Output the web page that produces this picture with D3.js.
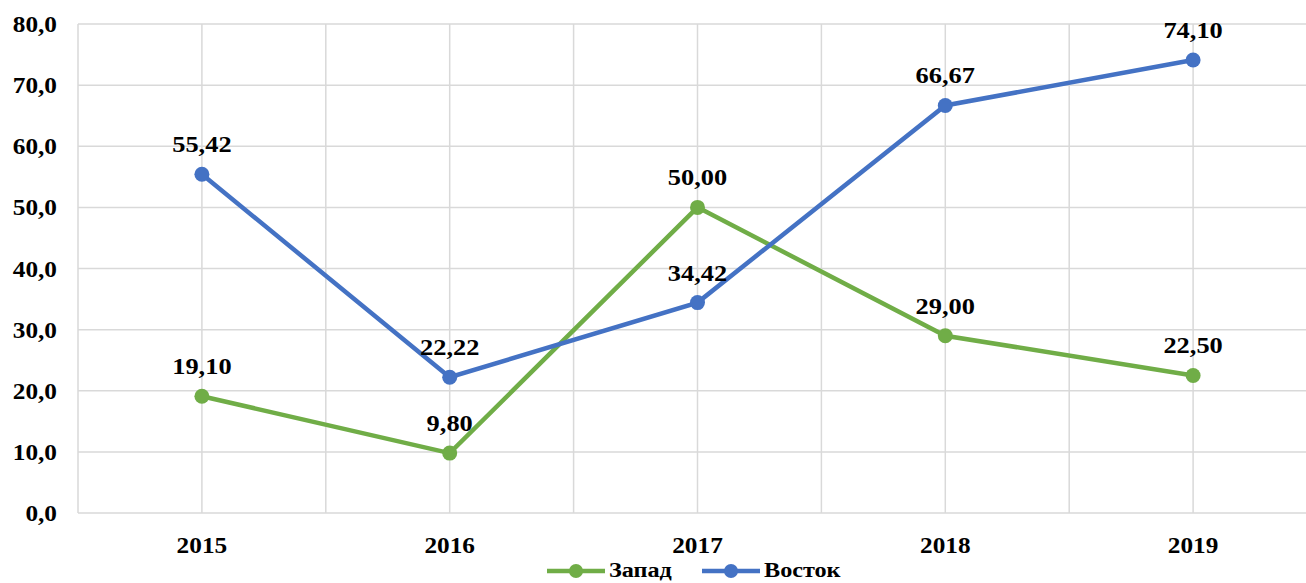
<!DOCTYPE html>
<meta charset="utf-8">
<style>
  body { margin: 0; background: #fff; }
  svg { font-family: "Liberation Serif", "Times New Roman", serif; font-weight: bold; font-size: 23px; }
  .grid line { stroke: #d9d9d9; stroke-width: 1.5px; }
  .line { fill: none; stroke-width: 4.5px; }
</style>
<svg width="1306" height="583"></svg>
<script src="https://cdn.jsdelivr.net/npm/d3@7"></script>
<script>
  const years = ["2015", "2016", "2017", "2018", "2019"];
  const zapad = [19.10, 9.80, 50.00, 29.00, 22.50];
  const vostok = [55.42, 22.22, 34.42, 66.67, 74.10];
  const yTicks = [0, 10, 20, 30, 40, 50, 60, 70, 80];

  const series = [
    {name: "Запад", values: zapad, color: "#70ad47"},
    {name: "Восток", values: vostok, color: "#4472c4"}
  ];

  const m = {left: 78, right: 1317, top: 24, bottom: 513};
  const svg = d3.select("svg");
  const fmt = v => d3.format(".2f")(v).replace(".", ",");
  const fmtTick = v => d3.format(".1f")(v).replace(".", ",");
  // the picture's text is a bit wider than the font, stretch it
  const at = (px, py) => "translate(" + px + "," + py + ") scale(1.1,1)";

  const x = d3.scaleBand().domain(years).range([m.left, m.right]);
  const y = d3.scaleLinear().domain([0, 80]).range([m.bottom, m.top]);
  const cx = d => x(d) + x.bandwidth() / 2;

  // gridlines
  const grid = svg.append("g").attr("class", "grid");
  grid.selectAll(".h").data(yTicks).enter().append("line")
    .attr("x1", m.left).attr("x2", m.right)
    .attr("y1", d => y(d)).attr("y2", d => y(d));
  const vx = [];
  years.forEach(d => { vx.push(x(d)); vx.push(cx(d)); });
  grid.selectAll(".v").data(vx).enter().append("line")
    .attr("x1", d => d).attr("x2", d => d)
    .attr("y1", m.top).attr("y2", m.bottom);

  // axes labels
  svg.append("g")
    .selectAll("text").data(yTicks).enter().append("text")
    .attr("transform", d => at(57, y(d) + 8))
    .attr("text-anchor", "end").text(fmtTick);
  svg.append("g")
    .selectAll("text").data(years).enter().append("text")
    .attr("transform", d => at(cx(d), 553))
    .attr("text-anchor", "middle").text(d => d);

  const line = d3.line().x((d, i) => cx(years[i])).y(d => y(d));

  series.forEach(s => {
    const g = svg.append("g");
    g.append("path").attr("class", "line")
      .attr("stroke", s.color).attr("d", line(s.values));
    g.selectAll("circle").data(s.values).enter().append("circle")
      .attr("cx", (d, i) => cx(years[i])).attr("cy", d => y(d))
      .attr("r", 7.5).attr("fill", s.color);
    g.selectAll("text").data(s.values).enter().append("text")
      .attr("transform", (d, i) => at(cx(years[i]), y(d) - 22))
      .attr("font-size", "24px")
      .attr("text-anchor", "middle").text(fmt);
  });

  // legend
  const legend = svg.append("g");
  const lx = [547, 702];
  series.forEach((s, i) => {
    const g = legend.append("g").attr("transform", "translate(" + lx[i] + ",571)");
    g.append("line").attr("x1", 0).attr("x2", 58).attr("y1", 0).attr("y2", 0)
      .attr("stroke", s.color).attr("stroke-width", 4.5);
    g.append("circle").attr("cx", 29).attr("cy", 0).attr("r", 7).attr("fill", s.color);
    g.append("text").attr("transform", at(62, 6)).attr("font-size", "22px").text(s.name);
  });
</script>
